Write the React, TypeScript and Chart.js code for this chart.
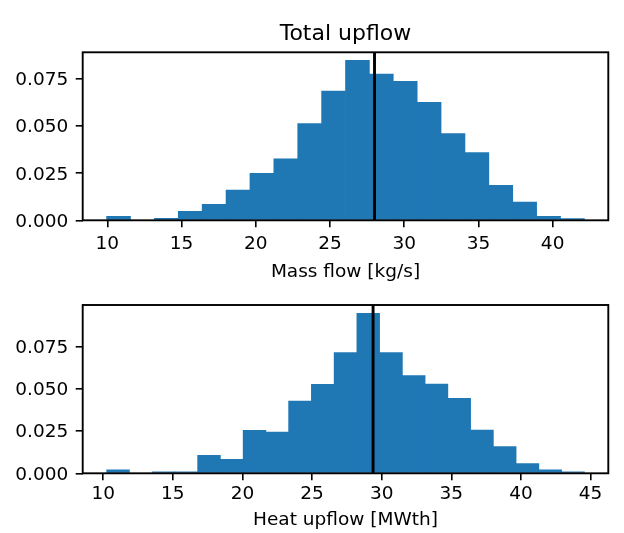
import React, { useEffect, useRef } from "react";
import { Chart, registerables } from "chart.js";

Chart.register(...registerables);

// ---- Data ----
const massBinCenters = [10.755, 12.364, 13.974, 15.583, 17.193, 18.802, 20.412, 22.021, 23.631, 25.24, 26.85, 28.459, 30.069, 31.678, 33.288, 34.897, 36.507, 38.116, 39.726, 41.335];
const massDensity = [0.0021, 0, 0.0011, 0.0048, 0.0085, 0.0161, 0.025, 0.0326, 0.0514, 0.0686, 0.0849, 0.0777, 0.0738, 0.0626, 0.0461, 0.036, 0.0186, 0.0097, 0.0021, 0.0009];
const massMarker = 28.0;
const massXTicks = [10, 15, 20, 25, 30, 35, 40];

const heatBinCenters = [11.067, 12.7, 14.333, 15.967, 17.6, 19.233, 20.867, 22.5, 24.133, 25.767, 27.4, 29.033, 30.667, 32.3, 33.933, 35.567, 37.2, 38.833, 40.467, 42.1, 43.733];
const heatDensity = [0.0021, 0, 0.0008, 0.0008, 0.0106, 0.0083, 0.0254, 0.0244, 0.0427, 0.0526, 0.0713, 0.0946, 0.0713, 0.0577, 0.0528, 0.0443, 0.0255, 0.0158, 0.0057, 0.002, 0.0008];
const heatMarker = 29.38;
const heatXTicks = [10, 15, 20, 25, 30, 35, 40, 45];

const yTickValues = [0, 0.025, 0.05, 0.075];
const titleText = "Total upflow";
const massLabel = "Mass flow [kg/s]";
const heatLabel = "Heat upflow [MWth]";

const FONT = "DejaVu Sans";
const BLUE = "#1f77b4";

const framePlugin = {
  id: "frame",
  afterDatasetsDraw(chart: any) {
    const { ctx, chartArea } = chart;
    ctx.save();
    ctx.strokeStyle = "#000";
    ctx.lineWidth = 1.9;
    ctx.strokeRect(chartArea.left, chartArea.top, chartArea.right - chartArea.left, chartArea.bottom - chartArea.top);
    ctx.restore();
  },
};

function zeroPad(s: any) {
  s.paddingTop = 0;
  s.paddingBottom = 0;
  s.paddingLeft = 0;
  s.paddingRight = 0;
}

function makeConfig(opts: {
  centers: number[];
  values: number[];
  marker: number;
  xTicks: number[];
  xMin: number;
  xMax: number;
  yMax: number;
  xLabel: string;
  title?: string;
  xHeight: number;
  xTickPad: number;
  xTitlePadBottom: number;
  padTop: number;
}) {
  const barData = opts.centers.map((c, i) => ({ x: c, y: opts.values[i] }));
  return {
    type: "bar" as const,
    data: {
      datasets: [
        {
          type: "line" as const,
          data: [
            { x: opts.marker, y: 0 },
            { x: opts.marker, y: opts.yMax },
          ],
          borderColor: "#000",
          borderWidth: 2.9,
          pointRadius: 0,
          order: 0,
          xAxisID: "x",
          yAxisID: "y",
        },
        {
          type: "bar" as const,
          data: barData,
          backgroundColor: BLUE,
          borderWidth: 0,
          barPercentage: 1,
          categoryPercentage: 1,
          order: 1,
          xAxisID: "x",
          yAxisID: "y",
        },
      ],
    },
    options: {
      animation: false,
      responsive: false,
      events: [],
      layout: { padding: { left: 0, right: 15.7, top: opts.padTop, bottom: 0 } },
      plugins: {
        legend: { display: false },
        tooltip: { enabled: false },
        title: {
          display: !!opts.title,
          text: opts.title || "",
          fullSize: false,
          color: "#000",
          font: { family: FONT, size: 22, weight: "normal" },
          padding: { top: 20.8, bottom: 5.1 },
        },
      },
      scales: {
        x: {
          type: "linear",
          min: opts.xMin,
          max: opts.xMax,
          bounds: "data",
          offset: false,
          border: { display: false },
          grid: {
            display: true,
            drawOnChartArea: false,
            drawTicks: true,
            tickLength: 7,
            tickColor: "#000",
            lineWidth: 1.6,
            offset: false,
          },
          afterBuildTicks: (s: any) => {
            s.ticks = opts.xTicks.map((v) => ({ value: v }));
          },
          ticks: {
            autoSkip: false,
            maxRotation: 0,
            padding: opts.xTickPad,
            color: "#000",
            font: { family: FONT, size: 18.5 },
            callback: (v: any) => String(v),
          },
          title: {
            display: true,
            text: opts.xLabel,
            color: "#000",
            font: { family: FONT, size: 18.5 },
            padding: { top: 0, bottom: opts.xTitlePadBottom },
          },
          afterFit: (s: any) => {
            s.height = opts.xHeight;
            zeroPad(s);
          },
        },
        y: {
          type: "linear",
          min: 0,
          max: opts.yMax,
          bounds: "data",
          border: { display: false },
          grid: {
            display: true,
            drawOnChartArea: false,
            drawTicks: true,
            tickLength: 7,
            tickColor: "#000",
            lineWidth: 1.6,
          },
          afterBuildTicks: (s: any) => {
            s.ticks = yTickValues.map((v) => ({ value: v }));
          },
          ticks: {
            autoSkip: false,
            padding: 7.4,
            labelOffset: 1.5,
            color: "#000",
            font: { family: FONT, size: 18.5 },
            callback: (v: any) => Number(v).toFixed(3),
          },
          afterFit: (s: any) => {
            s.width = 82.7;
            zeroPad(s);
          },
        },
      },
    },
    plugins: [framePlugin],
  };
}

export default function App() {
  const topRef = useRef<HTMLCanvasElement>(null);
  const bottomRef = useRef<HTMLCanvasElement>(null);

  useEffect(() => {
    const c1 = new Chart(
      topRef.current as HTMLCanvasElement,
      makeConfig({
        centers: massBinCenters,
        values: massDensity,
        marker: massMarker,
        xTicks: massXTicks,
        xMin: 8.34,
        xMax: 43.75,
        yMax: 0.0892,
        xLabel: massLabel,
        title: titleText,
        xHeight: 79.7,
        xTickPad: 6,
        xTitlePadBottom: 16.7,
        padTop: 0,
      }) as any
    );
    const c2 = new Chart(
      bottomRef.current as HTMLCanvasElement,
      makeConfig({
        centers: heatBinCenters,
        values: heatDensity,
        marker: heatMarker,
        xTicks: heatXTicks,
        xMin: 8.53,
        xMax: 46.27,
        yMax: 0.0995,
        xLabel: heatLabel,
        xHeight: 59.7,
        xTickPad: 3,
        xTitlePadBottom: 1.4,
        padTop: 5,
      }) as any
    );
    return () => {
      c1.destroy();
      c2.destroy();
    };
  }, []);

  return (
    <div style={{ position: "absolute", left: 0, top: 0, width: 624, height: 533, background: "#fff", overflow: "hidden" }}>
      <canvas ref={topRef} width={624} height={300} style={{ position: "absolute", left: 0, top: 0, width: 624, height: 300 }} />
      <canvas ref={bottomRef} width={624} height={233} style={{ position: "absolute", left: 0, top: 300, width: 624, height: 233 }} />
    </div>
  );
}
